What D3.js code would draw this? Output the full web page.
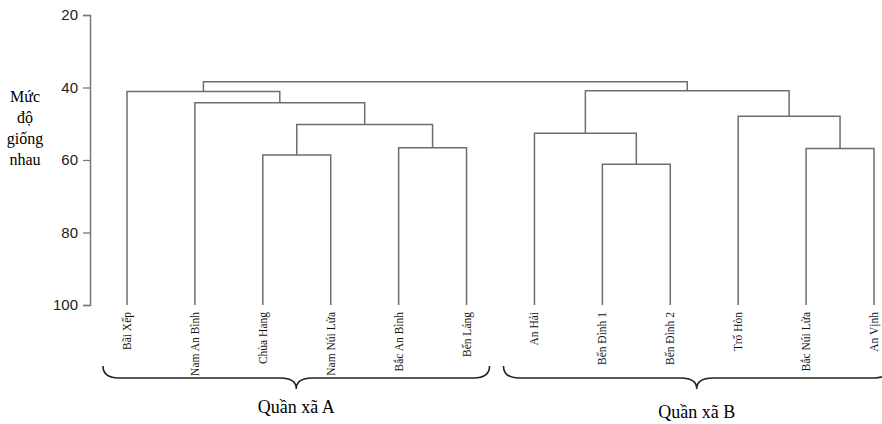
<!DOCTYPE html>
<html>
<head>
<meta charset="utf-8">
<script src="https://cdn.jsdelivr.net/npm/d3@7"></script>
<style>
  body { margin: 0; background: #fff; }
</style>
</head>
<body>
<div id="chart"></div>
<script>
const width = 882;
const height = 424;

// leaves, left to right
const leaves = ["Bãi Xếp", "Nam An Bình", "Chùa Hang", "Nam Núi Lửa", "Bắc An Bình", "Bến Láng",
    "An Hải", "Bến Đình 1", "Bến Đình 2", "Trố Hòn", "Bắc Núi Lửa", "An Vịnh"];

// merges like a linkage table: [child a, child b, similarity]; ids 0-11 are leaves, 12+ are merges
const merges = [
    [2, 3, 58.6],
    [4, 5, 56.6],
    [12, 13, 50.2],
    [1, 14, 44.2],
    [0, 15, 41.1],
    [7, 8, 61.2],
    [6, 17, 52.6],
    [10, 11, 56.8],
    [9, 19, 47.9],
    [18, 20, 40.9],
    [16, 21, 38.4]
];

const yTicks = [20, 40, 60, 80, 100];
const groups = ["Quần xã A", "Quần xã B"];
const groupSize = [6, 6];

const svg = d3.select("#chart")
    .append("svg")
    .attr("width", width)
    .attr("height", height)
    .attr("viewBox", [0, 0, width, height]);

const x = d3.scalePoint()
    .domain(leaves)
    .range([127, 874]);

const y = d3.scaleLinear()
    .domain([20, 100])
    .range([15, 305]);

// axis
const axis = svg.append("g")
    .attr("transform", "translate(90,0)")
    .call(d3.axisLeft(y).tickValues(yTicks).tickSize(7).tickPadding(5));
axis.select(".domain").attr("stroke", "#777").attr("stroke-width", 1.5);
axis.selectAll(".tick line").attr("stroke", "#777").attr("stroke-width", 1.3);
axis.selectAll(".tick text")
    .attr("fill", "#222")
    .attr("font-family", "Liberation Sans, Arial, sans-serif")
    .attr("font-size", "15px");

// axis title
svg.append("text")
    .attr("font-family", "Liberation Serif, Times New Roman, serif")
    .attr("font-size", "16px")
    .attr("fill", "#000")
    .attr("text-anchor", "middle")
    .selectAll("tspan")
    .data(["Mức", "độ", "giống", "nhau"])
    .join("tspan")
    .attr("x", 25)
    .attr("y", (d, i) => 102 + i * 21)
    .text(d => d);

// node positions
const nodes = leaves.map(name => ({x: x(name), h: 100}));
merges.forEach(m => {
    const a = nodes[m[0]], b = nodes[m[1]];
    nodes.push({x: (a.x + b.x) / 2, h: m[2], a: a, b: b});
});

const g = svg.append("g")
    .attr("fill", "none")
    .attr("stroke", "#6e6e6e")
    .attr("stroke-width", 1.5);

nodes.filter(n => n.a).forEach(n => {
    g.append("path")
        .attr("d", "M" + n.a.x + "," + y(n.a.h) + "V" + y(n.h) +
            "H" + n.b.x + "V" + y(n.b.h));
});

// leaf labels
svg.append("g")
    .selectAll("text")
    .data(leaves)
    .join("text")
    .attr("transform", d => "translate(" + (x(d) + 4) + ",312)rotate(-90)")
    .attr("text-anchor", "end")
    .attr("font-family", "Liberation Serif, Times New Roman, serif")
    .attr("font-size", "11.5px")
    .attr("fill", "#111")
    .text(d => d);

// braces under each group
let start = 0;
const braces = groups.map((name, i) => {
    const first = leaves[start], last = leaves[start + groupSize[i] - 1];
    start += groupSize[i];
    return {name: name, x0: x(first) - (i === 0 ? 24 : 31), x1: x(last) + (i === 0 ? 23 : 16)};
});

const yTop = 366, yMid = 378, yTip = 389, r = 16;
braces.forEach((b, i) => {
    const xm = (b.x0 + b.x1) / 2;
    svg.append("path")
        .attr("fill", "none")
        .attr("stroke", "#222")
        .attr("stroke-width", 1.6)
        .attr("d", "M" + b.x0 + "," + yTop +
            "Q" + b.x0 + "," + yMid + " " + (b.x0 + r) + "," + yMid +
            "L" + (xm - r) + "," + yMid +
            "Q" + xm + "," + yMid + " " + xm + "," + yTip +
            "Q" + xm + "," + yMid + " " + (xm + r) + "," + yMid +
            "L" + (b.x1 - r) + "," + yMid +
            "Q" + b.x1 + "," + yMid + " " + b.x1 + "," + yTop);
    svg.append("text")
        .attr("x", xm)
        .attr("y", i === 0 ? 413 : 418)
        .attr("text-anchor", "middle")
        .attr("font-family", "Liberation Serif, Times New Roman, serif")
        .attr("font-size", "18px")
        .attr("fill", "#000")
        .text(b.name);
});
</script>
</body>
</html>
